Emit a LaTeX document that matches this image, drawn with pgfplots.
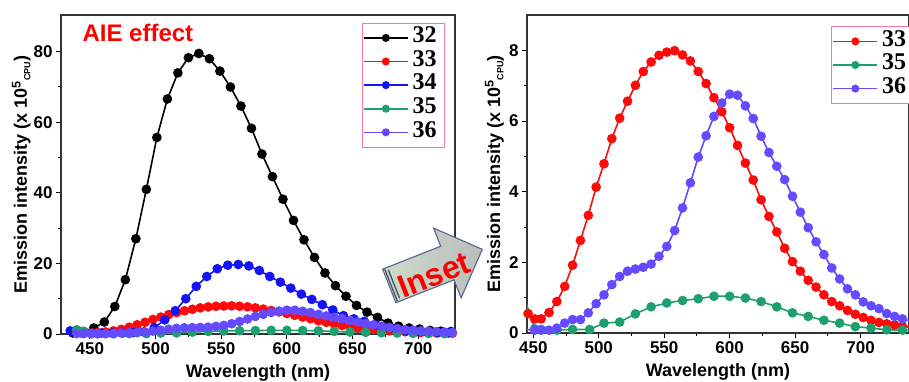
\documentclass[border=0pt]{standalone}
\usepackage{pgfplots}
\pgfplotsset{compat=1.18}
\usepackage{pgfplotstable}
\usepackage{fontspec}
\setmainfont{Liberation Sans}
\newfontfamily\tnr{Liberation Serif}
\usetikzlibrary{shapes.arrows,calc}

\definecolor{cblack}{RGB}{0,0,0}
\definecolor{cred}{RGB}{255,10,10}
\definecolor{cblue}{RGB}{20,20,245}
\definecolor{cgreen}{RGB}{30,160,110}
\definecolor{cpurple}{RGB}{100,75,255}
\definecolor{legpink}{RGB}{245,120,160}
\definecolor{arrowfillA}{RGB}{205,220,200}
\definecolor{arrowfillB}{RGB}{185,190,190}
\definecolor{arrowdraw}{RGB}{90,100,140}

\pgfplotstableread{
x y
437 0.3
445 0.5
453 1.7
461 3.4
469 7.8
477 15.4
485 27.0
493 41.0
501 55.7
509 66.6
517 74.0
525 78.3
533 79.5
541 78.0
549 74.5
557 70.0
565 64.6
573 58.3
581 51.0
589 44.6
597 38.2
605 32.2
613 26.7
621 21.7
629 17.3
637 13.7
645 10.7
653 8.1
661 6.2
669 4.7
677 3.1
685 2.2
693 1.7
701 1.4
709 1.0
717 0.8
725 0.7
}\tblA

\pgfplotstableread{
x y
435 0.9
443 0.4
451 0.3
459 0.3
467 0.3
475 0.3
483 0.4
491 0.6
499 1.8
507 4.0
515 6.6
523 10.0
531 13.5
539 16.3
547 18.5
555 19.5
563 19.7
571 19.3
579 18.0
587 16.3
595 14.7
603 13.0
611 11.3
619 9.8
627 8.3
635 6.8
643 5.2
651 4.3
659 3.6
667 2.6
675 1.8
683 1.3
691 0.9
699 0.7
707 0.5
715 0.4
723 0.3
}\tblC

\pgfplotstableread{
x y
440 0.80
446 0.55
451 0.40
456 0.40
462 0.58
468 0.89
474 1.32
480 1.92
486 2.62
492 3.33
498 4.13
504 4.79
510 5.50
516 6.08
522 6.56
528 7.01
534 7.40
540 7.67
546 7.86
552 7.95
558 7.99
564 7.87
570 7.70
576 7.40
582 7.06
588 6.66
594 6.26
600 5.81
606 5.31
612 4.81
618 4.33
624 3.77
630 3.30
636 2.86
642 2.40
648 2.02
654 1.75
660 1.49
666 1.30
672 1.08
678 0.89
684 0.77
690 0.64
696 0.53
702 0.44
708 0.36
714 0.30
720 0.26
726 0.23
732 0.19
738 0.16
}\tblB

\pgfplotstableread{
x y
440 1.20
445 0.80
451 0.12
456 0.10
468 0.08
480 0.10
493 0.10
504 0.28
516 0.31
528 0.54
540 0.74
552 0.85
564 0.92
576 0.97
588 1.04
600 1.04
612 0.99
624 0.89
636 0.74
648 0.57
660 0.47
672 0.36
684 0.28
696 0.18
708 0.14
720 0.09
732 0.08
744 0.06
}\tblD

\pgfplotstableread{
x y
440 0.12
445 0.10
451 0.08
456 0.08
462 0.08
468 0.14
474 0.28
480 0.38
486 0.38
492 0.57
498 0.83
504 1.08
510 1.37
516 1.60
522 1.75
528 1.81
534 1.86
540 1.95
546 2.17
552 2.45
558 2.90
564 3.54
570 4.25
576 4.98
582 5.58
588 6.13
594 6.51
600 6.76
606 6.73
612 6.43
618 6.07
624 5.57
630 5.11
636 4.72
642 4.34
648 3.87
654 3.42
660 2.98
666 2.58
672 2.22
678 1.84
684 1.53
690 1.25
696 1.08
702 0.88
708 0.77
714 0.69
720 0.55
726 0.47
732 0.40
738 0.33
}\tblE

\pgfplotsset{
  myaxis/.style={
    scale only axis,
    tick align=outside, tick pos=left,
    minor tick num=1,
    major tick length=5pt, minor tick length=3pt,
    every tick/.style={black, line width=1pt},
    axis line style={line width=1.5pt, black!80},
    tick label style={font=\fontsize{17}{17}\selectfont\bfseries},
    /pgf/number format/assume math mode=true,
    label style={font=\fontsize{18}{18}\selectfont\bfseries},
    xlabel={Wavelength (nm)},
    ylabel={Emission intensity (x 10\textsuperscript{5}\raisebox{-0.35ex}{\fontsize{9}{9}\selectfont CPU})},
    xlabel style={at={(axis description cs:0.5,0)}, anchor=base, yshift=-43pt},
    xtick={450,500,...,700},
    every axis plot/.append style={line width=1.6pt, mark=*, mark size=4pt, mark options={solid}},
    legend image code/.code={\draw[mark repeat=2, mark phase=2, mark size=3.2pt, #1] plot coordinates {(0pt,0pt) (22pt,0pt) (44pt,0pt)};},
    legend cell align=left,
    legend style={draw=legpink, line width=0.9pt, fill=white,
      font=\fontsize{24}{24}\selectfont\tnr\bfseries,
      inner xsep=1pt, inner ysep=3pt, row sep=0pt, column sep=4pt,
      nodes={inner sep=0pt, text height=16.5pt, text depth=7.1pt}},
  }
}

\begin{document}
\begin{tikzpicture}[x=1pt,y=1pt]
\useasboundingbox (0,0) rectangle (909,381);

\begin{axis}[myaxis,
  at={(61pt,47pt)}, anchor=south west,
  width=394pt, height=319pt,
  xmin=428, xmax=728, ymin=0, ymax=90.4,
  ytick={0,20,...,80},
  ylabel style={at={(axis description cs:-0.0863,0.5)}, anchor=base},
  legend style={at={(0.763,0.976)}, anchor=north west},
]
\addplot[color=cblack] table {\tblA}; \addlegendentry{32\hspace*{7pt}}
\addplot[color=cred] table {\tblB}; \addlegendentry{33\hspace*{7pt}}
\addplot[color=cblue] table {\tblC}; \addlegendentry{34\hspace*{7pt}}
\addplot[color=cgreen] table {\tblD}; \addlegendentry{35\hspace*{7pt}}
\addplot[color=cpurple] table {\tblE}; \addlegendentry{36\hspace*{7pt}}
\end{axis}

\begin{axis}[myaxis,
  at={(527pt,48pt)}, anchor=south west,
  width=382pt, height=318pt,
  xmin=445.2, xmax=737, ymin=0, ymax=9.0,
  ytick={0,2,...,8},
  ylabel style={at={(axis description cs:-0.0707,0.5)}, anchor=base},
  legend style={at={(0.796,0.965)}, anchor=north west},
]
\addplot[color=cred] table {\tblB}; \addlegendentry{33\hspace*{7pt}}
\addplot[color=cgreen] table {\tblD}; \addlegendentry{35\hspace*{7pt}}
\addplot[color=cpurple] table {\tblE}; \addlegendentry{36\hspace*{7pt}}
\end{axis}

\node[anchor=base west, text=red, font=\fontsize{24}{24}\selectfont\bfseries] at (79,339) {AIE effect};

\node[single arrow, draw=arrowdraw, line width=1.1pt,
  left color=arrowfillA, right color=arrowfillB,
  rotate=21.5, minimum height=100pt, inner xsep=0pt, inner ysep=17.5pt,
  single arrow head extend=19.5pt, anchor=tip] (arr) at (483,132) {};
\draw[arrowdraw!80!black, line width=1.3pt]
  ($(arr.before tail)!0.04!(arr.before head)$) -- ($(arr.after tail)!0.04!(arr.after head)$);
\draw[arrowdraw!80!black, line width=1.3pt]
  ($(arr.before tail)!0.09!(arr.before head)$) -- ($(arr.after tail)!0.09!(arr.after head)$);
\node[rotate=21.5, text=red, font=\fontsize{32}{32}\selectfont\bfseries] at (434,106) {Inset};
\end{tikzpicture}
\end{document}
